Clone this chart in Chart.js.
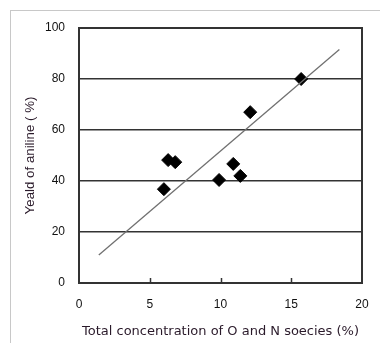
<!DOCTYPE html>
<html>
<head>
<meta charset="utf-8">
<script src="https://cdn.jsdelivr.net/npm/chart.js@4.4.1/dist/chart.umd.min.js"></script>
<style>
  html, body { margin: 0; padding: 0; background: #fff; }
  .wrap { position: relative; width: 380px; height: 343px; }
  .frame { position: absolute; left: 10px; top: 10px; right: 0; bottom: 0;
    border-top: 1px solid #c8c8c8; border-left: 1px solid #c8c8c8; pointer-events: none; }
</style>
</head>
<body>
<div class="wrap">
  <canvas id="chart" width="380" height="343"></canvas>
  <div class="frame"></div>
</div>
<script>
// data
const concentration = [6.0, 6.3, 6.8, 9.9, 10.9, 11.4, 12.1, 15.7];
const anilineYield = [36.8, 48.2, 47.4, 40.4, 46.7, 42.0, 67.0, 80.0];
const fitX = [1.4, 18.4];
const fitY = [11.0, 91.6];
const xTicks = [0, 5, 10, 15, 20];

const ctx = document.getElementById('chart').getContext('2d');

// plot frame + inward x tick marks
const framePlugin = {
  id: 'frame',
  afterDraw(chart) {
    const { ctx, chartArea: a, scales } = chart;
    ctx.save();
    ctx.strokeStyle = '#333';
    ctx.lineWidth = 2;
    ctx.strokeRect(a.left, a.top, a.right - a.left, a.bottom - a.top);
    ctx.lineWidth = 1.5;
    xTicks.slice(1, -1).forEach(v => {
      const px = Math.round(scales.x.getPixelForValue(v)) + 0.5;
      ctx.beginPath();
      ctx.moveTo(px, a.bottom);
      ctx.lineTo(px, a.bottom - 5);
      ctx.stroke();
    });
    ctx.restore();
  }
};

const tickFont = { family: 'Liberation Sans', size: 12 };

new Chart(ctx, {
  type: 'scatter',
  data: {
    datasets: [
      {
        type: 'line',
        data: fitX.map((x, i) => ({ x, y: fitY[i] })),
        borderColor: '#707070',
        borderWidth: 1.3,
        pointRadius: 0,
        fill: false
      },
      {
        data: concentration.map((x, i) => ({ x, y: anilineYield[i] })),
        pointStyle: 'rectRot',
        pointRadius: 6.5,
        backgroundColor: '#000',
        borderColor: '#000',
        borderWidth: 1
      }
    ]
  },
  options: {
    responsive: false,
    animation: false,
    layout: { padding: { top: 28, right: 18, left: 0, bottom: 0 } },
    plugins: { legend: { display: false }, tooltip: { enabled: false } },
    scales: {
      x: {
        type: 'linear',
        min: 0,
        max: 20,
        afterBuildTicks: s => { s.ticks = xTicks.map(v => ({ value: v })); },
        afterFit: s => { s.height = 60; s.paddingRight = 0; s.paddingLeft = 0; },
        grid: { display: false, drawTicks: false },
        border: { display: false },
        ticks: { color: '#111', padding: 14, font: tickFont },
        title: {
          display: true,
          text: 'Total concentration of O and N soecies (%)',
          color: '#2a1a2a',
          padding: { top: 5 },
          font: { family: 'DejaVu Sans', size: 13 }
        }
      },
      y: {
        min: 0,
        max: 100,
        afterFit: s => { s.width = 79; },
        grid: { color: '#333', lineWidth: 1.5, drawTicks: false },
        border: { display: false },
        ticks: { stepSize: 20, color: '#111', padding: 14, font: tickFont },
        title: {
          display: true,
          text: 'Yeald of aniline ( %)',
          color: '#2a1a2a',
          padding: { top: 22 },
          font: { family: 'Liberation Sans', size: 13.3 }
        }
      }
    }
  },
  plugins: [framePlugin]
});
</script>
</body>
</html>
